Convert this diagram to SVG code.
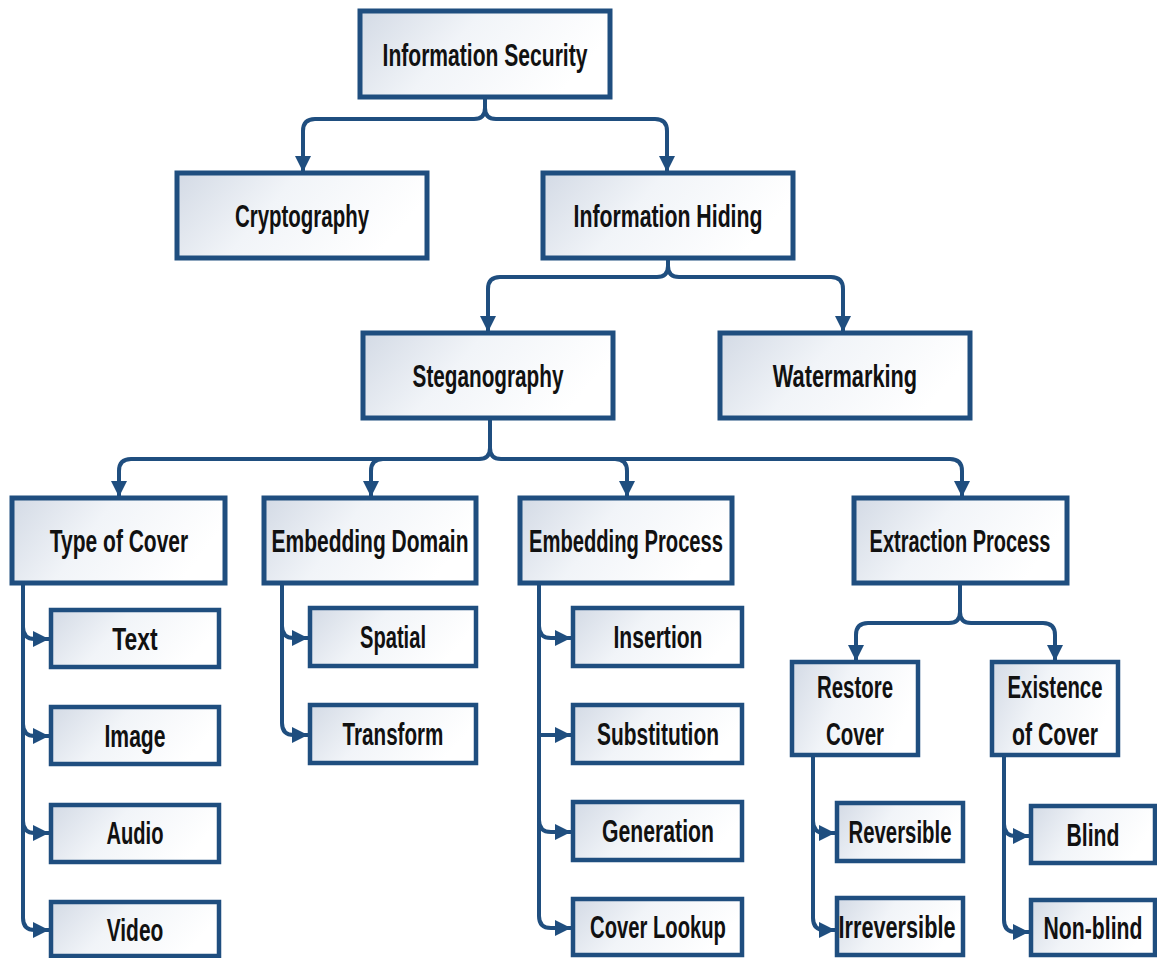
<svg xmlns="http://www.w3.org/2000/svg" width="1157" height="958" viewBox="0 0 1157 958">
  <style>
    .box { fill: url(#boxFill); stroke: #1f4e7f; stroke-width: 5; }
    .sm { stroke-width: 4.5; }
    .lbl { font-family: "Liberation Sans", Arial, sans-serif; font-weight: bold; font-size: 32px; fill: #111; text-anchor: middle; }
    .wire { fill: none; stroke: #1f4e7f; stroke-width: 4; stroke-linecap: round; stroke-linejoin: round; }
    .arr { marker-end: url(#head); }
  </style>
  <defs>
    <linearGradient id="boxFill" x1="0" y1="0" x2="1" y2="0.3">
      <stop offset="0" stop-color="#d3dae5"/>
      <stop offset="0.45" stop-color="#f1f4f8"/>
      <stop offset="1" stop-color="#ffffff"/>
    </linearGradient>
    <marker id="head" markerUnits="userSpaceOnUse" markerWidth="18" markerHeight="16" refX="16" refY="8" orient="auto">
      <path d="M0,0 L16,8 L0,16 Z" fill="#1f4e7f"/>
    </marker>
  </defs>

  <rect width="1157" height="958" fill="#ffffff"/>

  <!-- connectors -->
  <g id="connectors">
    <!-- Information Security split -->
    <path class="wire arr" d="M485,97 V108 Q485,119 474,119 H315 Q303,119 303,131 V172"/>
    <path class="wire arr" d="M485,108 Q485,119 496,119 H655 Q667,119 667,131 V172"/>
    <!-- Information Hiding split -->
    <path class="wire arr" d="M668,258 V266 Q668,277 657,277 H500 Q488,277 488,289 V332"/>
    <path class="wire arr" d="M668,266 Q668,277 679,277 H831 Q843,277 843,289 V332"/>
    <!-- Steganography split -->
    <path class="wire arr" d="M490,418 V448 Q490,459 479,459 H131 Q119,459 119,471 V497"/>
    <path class="wire arr" d="M479,459 H383 Q371,459 371,471 V497"/>
    <path class="wire arr" d="M490,448 Q490,459 501,459 H615 Q627,459 627,471 V497"/>
    <path class="wire arr" d="M615,459 H950 Q962,459 962,471 V497"/>
    <!-- Extraction Process split -->
    <path class="wire arr" d="M960,583 V612 Q960,623 949,623 H868 Q856,623 856,635 V661"/>
    <path class="wire arr" d="M960,612 Q960,623 971,623 H1043 Q1055,623 1055,635 V661"/>

    <!-- Type of Cover list -->
    <path class="wire arr" d="M23,583 V918 Q23,930 35,930 H49"/>
    <path class="wire arr" d="M23,627 Q23,639 35,639 H49"/>
    <path class="wire arr" d="M23,724 Q23,736 35,736 H49"/>
    <path class="wire arr" d="M23,821 Q23,833 35,833 H49"/>
    <!-- Embedding Domain list -->
    <path class="wire arr" d="M282,583 V723 Q282,735 294,735 H308"/>
    <path class="wire arr" d="M282,626 Q282,638 294,638 H308"/>
    <!-- Embedding Process list -->
    <path class="wire arr" d="M539,583 V916 Q539,928 551,928 H571"/>
    <path class="wire arr" d="M539,626 Q539,638 551,638 H571"/>
    <path class="wire arr" d="M539,735 H571"/>
    <path class="wire arr" d="M539,820 Q539,832 551,832 H571"/>
    <!-- Restore Cover list -->
    <path class="wire arr" d="M813,755 V918 Q813,930 825,930 H835"/>
    <path class="wire arr" d="M813,821 Q813,833 825,833 H835"/>
    <!-- Existence of Cover list -->
    <path class="wire arr" d="M1004,755 V920 Q1004,932 1016,932 H1029"/>
    <path class="wire arr" d="M1004,824 Q1004,836 1016,836 H1029"/>
  </g>

  <!-- top levels -->
  <g id="information-security">
    <rect class="box" x="360" y="11" width="250" height="86"/>
    <text class="lbl" transform="translate(485,66) scale(0.659,1)">Information Security</text>
  </g>
  <g id="cryptography">
    <rect class="box" x="177" y="173" width="250" height="85"/>
    <text class="lbl" transform="translate(302,227) scale(0.639,1)">Cryptography</text>
  </g>
  <g id="information-hiding">
    <rect class="box" x="543" y="173" width="250" height="85"/>
    <text class="lbl" transform="translate(668,227) scale(0.665,1)">Information Hiding</text>
  </g>
  <g id="steganography">
    <rect class="box" x="363" y="333" width="250" height="85"/>
    <text class="lbl" transform="translate(488,387) scale(0.648,1)">Steganography</text>
  </g>
  <g id="watermarking">
    <rect class="box" x="720" y="333" width="250" height="85"/>
    <text class="lbl" transform="translate(845,387) scale(0.68,1)">Watermarking</text>
  </g>

  <!-- steganography categories -->
  <g id="type-of-cover">
    <rect class="box" x="12" y="498" width="213" height="85"/>
    <text class="lbl" transform="translate(119,552) scale(0.656,1)">Type of Cover</text>
  </g>
  <g id="embedding-domain">
    <rect class="box" x="264" y="498" width="212" height="85"/>
    <text class="lbl" transform="translate(370,552) scale(0.656,1)">Embedding Domain</text>
  </g>
  <g id="embedding-process">
    <rect class="box" x="520" y="498" width="212" height="85"/>
    <text class="lbl" transform="translate(626,552) scale(0.631,1)">Embedding Process</text>
  </g>
  <g id="extraction-process">
    <rect class="box" x="854" y="498" width="213" height="85"/>
    <text class="lbl" transform="translate(960,552) scale(0.624,1)">Extraction Process</text>
  </g>

  <!-- cover types -->
  <g id="text">
    <rect class="box sm" x="51" y="610" width="168" height="57"/>
    <text class="lbl" transform="translate(135,650) scale(0.714,1)">Text</text>
  </g>
  <g id="image">
    <rect class="box sm" x="51" y="707" width="168" height="57"/>
    <text class="lbl" transform="translate(135,747) scale(0.66,1)">Image</text>
  </g>
  <g id="audio">
    <rect class="box sm" x="51" y="805" width="168" height="57"/>
    <text class="lbl" transform="translate(135,844) scale(0.629,1)">Audio</text>
  </g>
  <g id="video">
    <rect class="box sm" x="51" y="902" width="168" height="54"/>
    <text class="lbl" transform="translate(135,941) scale(0.654,1)">Video</text>
  </g>

  <!-- embedding domains -->
  <g id="spatial">
    <rect class="box sm" x="310" y="608" width="166" height="58"/>
    <text class="lbl" transform="translate(393,648) scale(0.629,1)">Spatial</text>
  </g>
  <g id="transform">
    <rect class="box sm" x="310" y="705" width="166" height="58"/>
    <text class="lbl" transform="translate(393,745) scale(0.645,1)">Transform</text>
  </g>

  <!-- embedding processes -->
  <g id="insertion">
    <rect class="box sm" x="573" y="608" width="169" height="58"/>
    <text class="lbl" transform="translate(658,648) scale(0.659,1)">Insertion</text>
  </g>
  <g id="substitution">
    <rect class="box sm" x="573" y="705" width="169" height="58"/>
    <text class="lbl" transform="translate(658,745) scale(0.654,1)">Substitution</text>
  </g>
  <g id="generation">
    <rect class="box sm" x="573" y="802" width="169" height="58"/>
    <text class="lbl" transform="translate(658,842) scale(0.663,1)">Generation</text>
  </g>
  <g id="cover-lookup">
    <rect class="box sm" x="573" y="899" width="169" height="56"/>
    <text class="lbl" transform="translate(658,938) scale(0.632,1)">Cover Lookup</text>
  </g>

  <!-- extraction criteria -->
  <g id="restore-cover">
    <rect class="box sm" x="792" y="662" width="126" height="93"/>
    <text class="lbl" transform="translate(855,698) scale(0.638,1)">Restore</text>
    <text class="lbl" transform="translate(855,745) scale(0.64,1)">Cover</text>
  </g>
  <g id="existence-of-cover">
    <rect class="box sm" x="992" y="662" width="126" height="93"/>
    <text class="lbl" transform="translate(1055,698) scale(0.636,1)">Existence</text>
    <text class="lbl" transform="translate(1055,745) scale(0.663,1)">of Cover</text>
  </g>
  <g id="reversible">
    <rect class="box sm" x="837" y="803" width="126" height="58"/>
    <text class="lbl" transform="translate(900,843) scale(0.636,1)">Reversible</text>
  </g>
  <g id="irreversible">
    <rect class="box sm" x="837" y="898" width="126" height="57"/>
    <text class="lbl" transform="translate(897,938) scale(0.678,1)">Irreversible</text>
  </g>
  <g id="blind">
    <rect class="box sm" x="1031" y="806" width="124" height="57"/>
    <text class="lbl" transform="translate(1093,846) scale(0.663,1)">Blind</text>
  </g>
  <g id="non-blind">
    <rect class="box sm" x="1031" y="900" width="124" height="55"/>
    <text class="lbl" transform="translate(1093,939) scale(0.663,1)">Non-blind</text>
  </g>
</svg>
